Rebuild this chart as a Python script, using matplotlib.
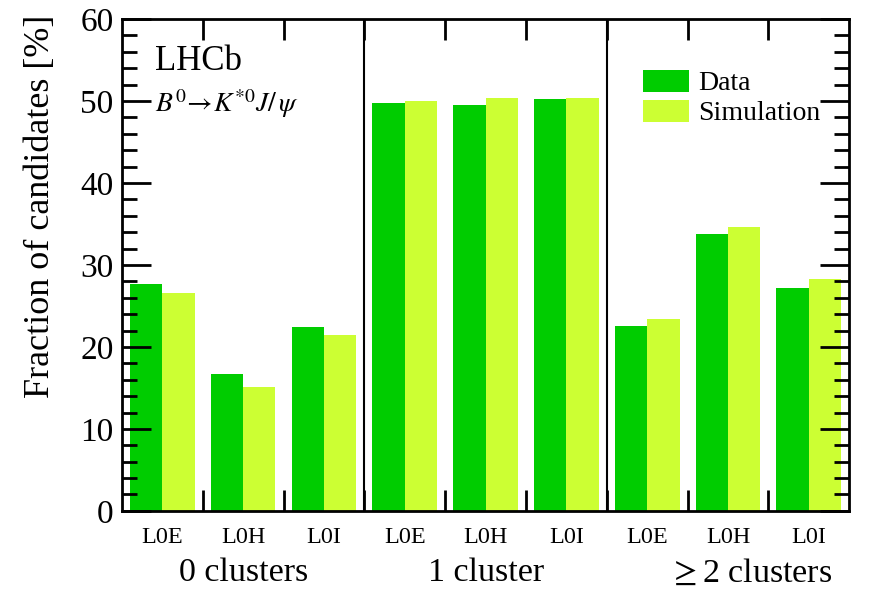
import numpy as np
import matplotlib.pyplot as plt
from matplotlib.ticker import MultipleLocator

triggers = ['L0E', 'L0H', 'L0I'] * 3
groups = ['0 clusters', '1 cluster', r'$\geq$2 clusters']
data = [27.7, 16.7, 22.4, 49.7, 49.5, 50.2, 22.6, 33.8, 27.2]
simulation = [26.6, 15.1, 21.4, 50.0, 50.4, 50.4, 23.4, 34.6, 28.3]

plt.rcParams['font.family'] = 'Liberation Serif'
plt.rcParams['mathtext.fontset'] = 'stix'

fig = plt.figure(figsize=(8.71, 5.92), dpi=100)
ax = fig.add_axes([0.140, 0.137, 0.835, 0.831])

x = np.arange(len(data))
ax.bar(x + 0.1, data, width=0.4, align='edge', color='#00cc00', label='Data')
ax.bar(x + 0.5, simulation, width=0.4, align='edge', color='#ccff33', label='Simulation')

ax.set_xlim(0, 9)
ax.set_ylim(0, 60)
for s in ax.spines.values():
    s.set_linewidth(2)
ax.axvline(3, color='black', lw=1.5)
ax.axvline(6, color='black', lw=1.5)

ax.yaxis.set_major_locator(MultipleLocator(10))
ax.yaxis.set_minor_locator(MultipleLocator(2))
ax.tick_params(axis='y', which='both', direction='in', left=True, right=True, width=2)
ax.tick_params(axis='y', which='major', length=21, labelsize=24, pad=6)
ax.tick_params(axis='y', which='minor', length=11)
ax.set_xticks(np.arange(1, 9))
ax.tick_params(axis='x', which='major', direction='in', top=True, bottom=True,
               length=15, width=2, labelbottom=False)

for i, t in enumerate(triggers):
    ax.text(i + 0.5, -3.3, t, ha='center', va='center', fontsize=17.5)
for j, g in enumerate(groups):
    xpos = 3 * j + 1.5 + (0.28 if j == 2 else 0)
    ax.text(xpos, -7.6, g, ha='center', va='center', fontsize=24.5)

fig.text(40 / 871, 0.652, 'Fraction of candidates [%]', rotation=90,
         ha='center', va='center', fontsize=26)

ax.text(0.045, 0.913, 'LHCb', transform=ax.transAxes, fontsize=25, va='center')
ax.text(0.045, 0.829, r'$B^0\!\rightarrow\! K^{*0}J/\,\psi$', transform=ax.transAxes,
        fontsize=20, va='center')

ax.legend(loc='upper left', bbox_to_anchor=(0.697, 0.925), frameon=False, fontsize=20,
          handlelength=1.66, handleheight=0.85, handletextpad=0.35, labelspacing=0.12,
          borderpad=0)

fig.savefig('out.png', dpi=100)
